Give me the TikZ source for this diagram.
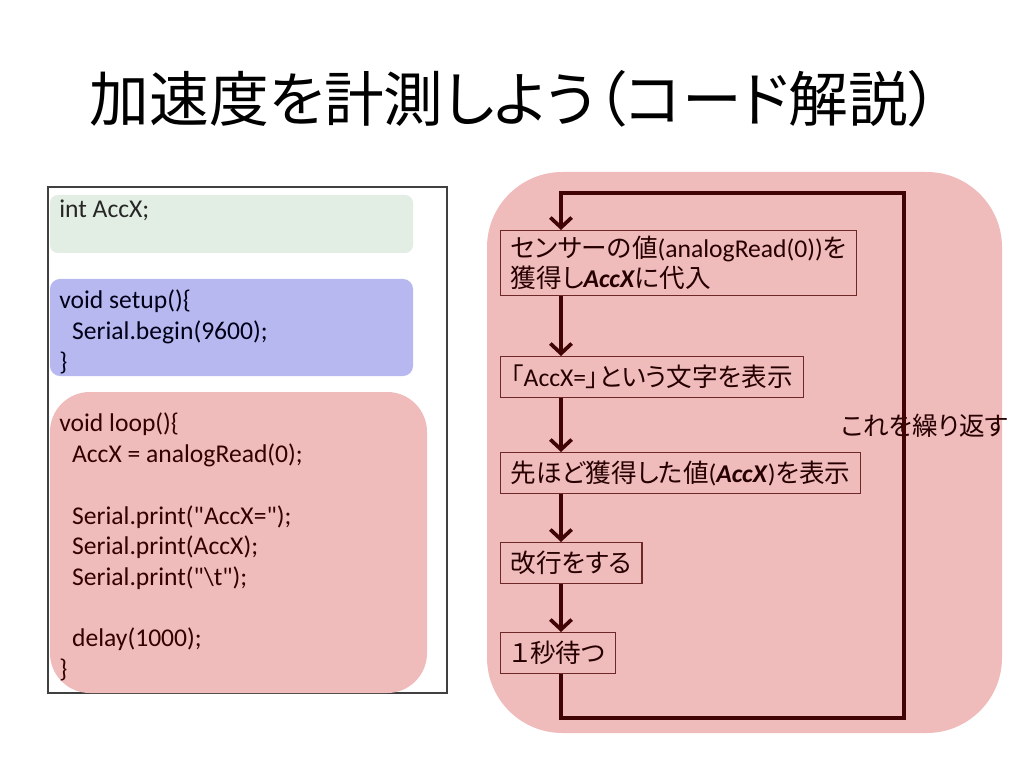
\documentclass[tikz,border=0pt]{standalone}
\usepackage{fontspec}
\setmainfont{Carlito}
\newfontfamily\jp[RawFeature=+palt]{Noto Sans CJK JP}
\usepackage{tikz}
\usetikzlibrary{arrows.meta}
\definecolor{codegreen}{RGB}{226,238,228}
\definecolor{codeblue}{RGB}{184,184,240}
\definecolor{codered}{RGB}{240,187,187}
\definecolor{flowc}{RGB}{64,4,4}
\definecolor{boxc}{RGB}{110,40,40}
\newcommand{\ind}{\hspace*{9pt}}
\newcommand{\dq}{\XeTeXglyph\XeTeXcharglyph"22\relax}
\begin{document}
\begin{tikzpicture}[x=0.703125pt,y=-0.703125pt,
    codetext/.style={anchor=base west,inner sep=0pt,align=left,font=\fontsize{18pt}{21.6pt}\selectfont},
    flowbox/.style={draw=boxc,line width=0.9pt,anchor=north west,align=left,inner xsep=7.2pt,inner ysep=3.6pt,
        minimum height=28.8pt,text=black!85!red,font=\fontsize{18pt}{21.6pt}\selectfont},
    flow/.style={draw=flowc,line width=2.6pt,-{Straight Barb[length=7pt,width=15pt]}}]
    \fill[white] (0,0) rectangle (1024,768);
    \useasboundingbox (0,0) rectangle (1024,768);
    \node[font=\jp\fontsize{42pt}{50pt}\selectfont] (title) at (514,99) {加速度を計測しよう（コード解説）};
    % code panel
    \draw[black!75,line width=0.8pt] (48,187) rectangle (447,693);
    \fill[codegreen,rounded corners=5.6pt] (50,195) rectangle (413,253);
    \fill[codeblue,rounded corners=7pt] (50,279) rectangle (413,376);
    \fill[codered,rounded corners=28pt] (50,392) rectangle (427,693);
    \node[codetext,text=black!85] (decl) at (59,218) {int AccX;};
    \node[codetext,text=blue!10!black] (setup) at (59,370.4) {void setup()\{\\ \ind Serial.begin(9600);\\\}};
    \node[codetext,text=red!20!black] (loop) at (59,677.6) {void loop()\{\\ \ind AccX = analogRead(0);\\[21.6pt]
        \ind Serial.print(\dq AccX=\dq);\\ \ind Serial.print(AccX);\\ \ind Serial.print(\dq\textbackslash t\dq);\\[21.6pt]
        \ind delay(1000);\\\}};
    % flow chart
    \fill[codered,rounded corners=53pt] (487,172) rectangle (1002,733);
    \node[flowbox] (b1) at (500,230) {{\jp センサーの値}(analogRead(0)){\jp を}\\{\jp 獲得し}\textbf{\textit{AccX}}{\jp に代入}};
    \node[flowbox] (b2) at (500,356) {{\jp 「}AccX={\jp 」という文字を表示}};
    \node[flowbox] (b3) at (500,452) {{\jp 先ほど獲得した値}(\textbf{\textit{AccX}}){\jp を表示}};
    \node[flowbox] (b4) at (500,542) {\jp 改行をする};
    \node[flowbox] (b5) at (500,632) {\jp １秒待つ};
    \node[anchor=west,inner sep=0pt,text=black!85!red,font=\jp\fontsize{18pt}{21.6pt}\selectfont] (again) at (841,426) {これを繰り返す};
    \coordinate (tl) at (561,193);
    \coordinate (tr) at (904,193);
    \coordinate (br) at (904,718);
    \coordinate (bl) at (561,718);
    \draw[flow] (b1.south -| tl) -- (b2.north -| tl);
    \draw[flow] (b2.south -| tl) -- (b3.north -| tl);
    \draw[flow] (b3.south -| tl) -- (b4.north -| tl);
    \draw[flow] (b4.south -| tl) -- (b5.north -| tl);
    \draw[flow,line join=miter] (b5.south -| bl) -- (bl) -- (br) -- (tr) -- (tl) -- (b1.north -| tl);
\end{tikzpicture}
\end{document}
